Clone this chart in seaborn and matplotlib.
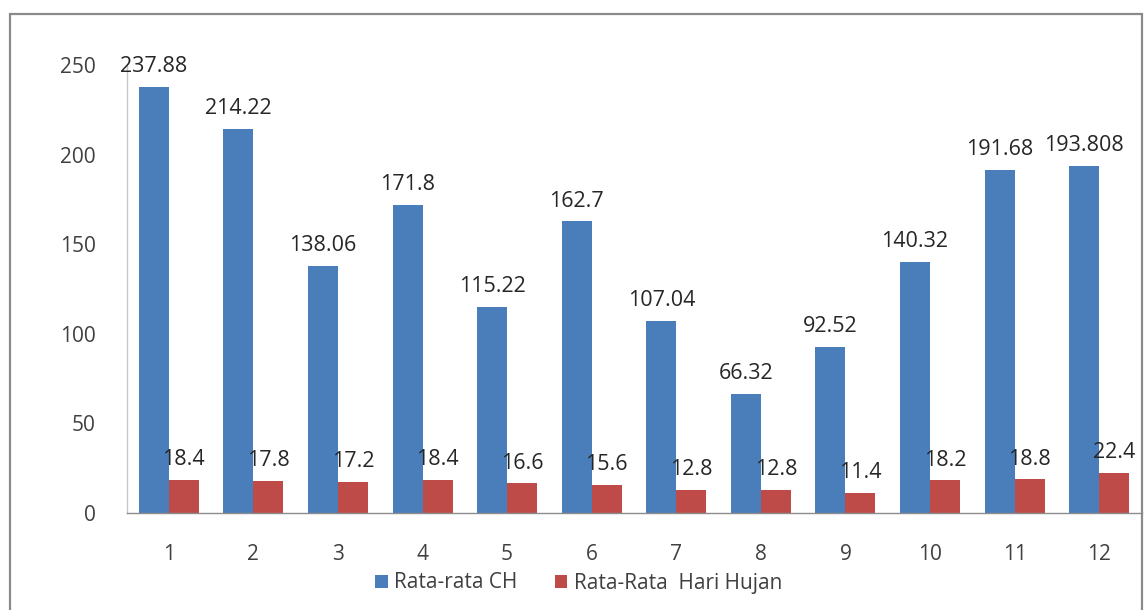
import matplotlib
matplotlib.use("Agg")
import matplotlib.pyplot as plt
from matplotlib.patches import Rectangle
import seaborn as sns
import pandas as pd

# Monthly averages
months = ["1", "2", "3", "4", "5", "6", "7", "8", "9", "10", "11", "12"]
rainfall = [237.88, 214.22, 138.06, 171.8, 115.22, 162.7, 107.04, 66.32, 92.52, 140.32, 191.68, 193.808]
rain_days = [18.4, 17.8, 17.2, 18.4, 16.6, 15.6, 12.8, 12.8, 11.4, 18.2, 18.8, 22.4]
series_names = ["Rata-rata CH", "Rata-Rata  Hari Hujan"]
y_ticks = [0, 50, 100, 150, 200, 250]

df = pd.DataFrame({
    "Bulan": months * 2,
    "Nilai": rainfall + rain_days,
    "Seri": [series_names[0]] * len(months) + [series_names[1]] * len(months),
})

sns.set_theme(style="white")
plt.rcParams["font.family"] = ["Open Sans", "DejaVu Sans"]

BLUE = "#4A7EBB"
RED = "#BE4B48"
TEXT = "#404040"

fig = plt.figure(figsize=(11.46, 6.10), dpi=100)
ax = fig.add_axes([126.5 / 1146, 97 / 610, 1015 / 1146, 448 / 610])

sns.barplot(data=df, x="Bulan", y="Nilai", hue="Seri", order=months,
            hue_order=series_names, palette=[BLUE, RED], saturation=1,
            width=0.71, linewidth=0, ax=ax, legend=True)

for cont, vals in zip(ax.containers, [rainfall, rain_days]):
    ax.bar_label(cont, labels=[f"{v:g}" for v in vals], padding=7,
                 fontsize=15.5, color="#262626")

ax.set_ylim(0, 250)
ax.set_yticks(y_ticks)
ax.set_xlabel("")
ax.set_ylabel("")
ax.tick_params(axis="y", length=0, pad=22, labelsize=15, labelcolor=TEXT)
ax.tick_params(axis="x", length=0, pad=22, labelsize=15, labelcolor=TEXT)

for side in ("top", "right"):
    ax.spines[side].set_visible(False)
ax.spines["left"].set_color("#C8C8C8")
ax.spines["left"].set_linewidth(1.0)
ax.spines["bottom"].set_color("#8C8C8C")
ax.spines["bottom"].set_linewidth(1.0)
ax.set_facecolor("white")

handles, labels = ax.get_legend_handles_labels()
ax.get_legend().remove()
fig.legend(handles, labels, loc="center", bbox_to_anchor=(0.505, 1 - 583 / 610),
           ncol=2, frameon=False, fontsize=15, labelcolor=TEXT,
           handlelength=0.6, handleheight=0.6, handletextpad=0.3,
           columnspacing=1.8)

# Chart frame
fig.patches.append(Rectangle((10 / 1146, -0.02), 1132 / 1146, 0.02 + (610 - 14) / 610,
                             transform=fig.transFigure, fill=False,
                             edgecolor="#8A8A8A", linewidth=1.6))

fig.savefig("out.png", dpi=100, facecolor="white")
